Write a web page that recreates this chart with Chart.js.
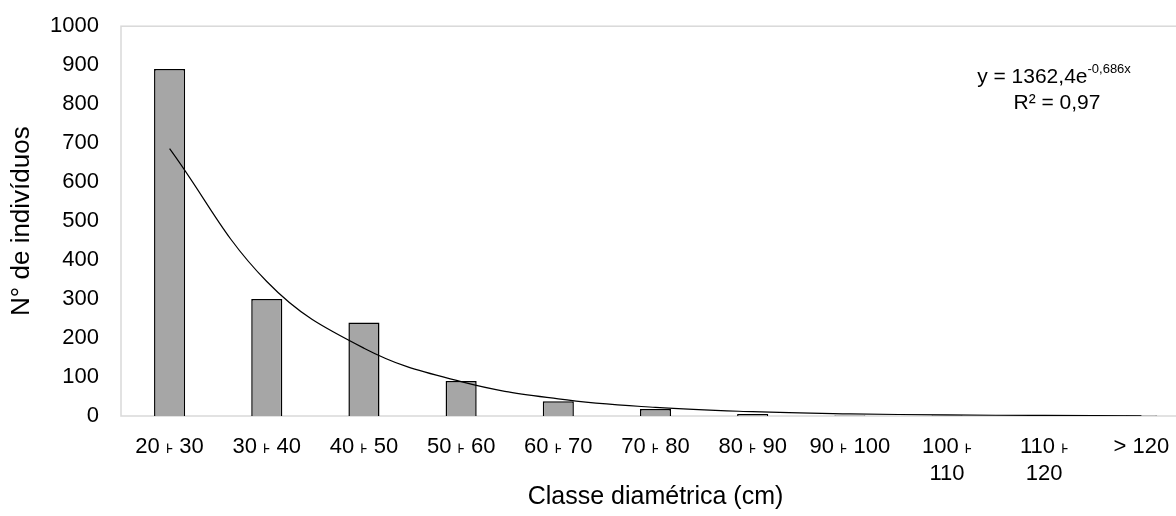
<!DOCTYPE html>
<html>
<head>
<meta charset="utf-8">
<script src="https://cdn.jsdelivr.net/npm/chart.js@4.4.1/dist/chart.umd.min.js"></script>
<style>
    html, body { margin: 0; padding: 0; background: #fff; overflow: hidden; }
    #wrap { width: 1192px; height: 525px; margin-top: -9px; position: relative; }
</style>
</head>
<body>
<div id="wrap"><canvas id="grafico"></canvas></div>
<script>
const classes = ['20 ˫ 30', '30 ˫ 40', '40 ˫ 50', '50 ˫ 60', '60 ˫ 70', '70 ˫ 80', '80 ˫ 90', '90 ˫ 100', ['100 ˫', '110'], ['110 ˫', '120'], '> 120'];
const individuos = [890, 300, 240, 90, 38, 18, 5, 1.5, 1, 2, 1];
// tendência exponencial (y = 1362,4e^-0,686x)
const tendencia = [686, 345, 174, 88, 44, 22, 11, 5.6, 2.8, 1.4, 0.7];
const yTicks = [0, 100, 200, 300, 400, 500, 600, 700, 800, 900, 1000];

const fonte = 'Arial, "Liberation Sans", sans-serif';

const moldura = {
    id: 'moldura',
    beforeDatasetsDraw(chart) {
        const { ctx, chartArea: a } = chart;
        ctx.save();
        ctx.strokeStyle = '#d9d9d9';
        ctx.lineWidth = 1.5;
        ctx.strokeRect(a.left, a.top, a.right - a.left, a.bottom - a.top);
        ctx.restore();
    }
};

// canvas deslocado 9px para cima, por isso +9 nas posições do texto
const equacao = {
    id: 'equacao',
    afterDraw(chart) {
        const ctx = chart.ctx;
        ctx.save();
        ctx.fillStyle = '#000';
        ctx.textBaseline = 'alphabetic';
        ctx.font = '21px ' + fonte;
        const base = 'y = 1362,4e';
        const wBase = ctx.measureText(base).width;
        ctx.font = '13px ' + fonte;
        const sup = '-0,686x';
        const wSup = ctx.measureText(sup).width;
        const x0 = 1054 - (wBase + wSup) / 2;
        ctx.font = '21px ' + fonte;
        ctx.fillText(base, x0, 92);
        ctx.font = '13px ' + fonte;
        ctx.fillText(sup, x0 + wBase, 82);
        ctx.font = '21px ' + fonte;
        ctx.textAlign = 'center';
        ctx.fillText('R² = 0,97', 1057, 118);
        ctx.restore();
    }
};

new Chart(document.getElementById('grafico'), {
    type: 'bar',
    data: {
        labels: classes,
        datasets: [
            {
                type: 'line',
                data: tendencia,
                borderColor: '#000',
                borderWidth: 1.2,
                pointRadius: 0,
                tension: 0.4,
                fill: false,
                order: 0
            },
            {
                data: individuos,
                backgroundColor: '#a6a6a6',
                borderColor: '#000',
                borderWidth: 1.5,
                categoryPercentage: 1,
                barPercentage: 0.32,
                order: 1
            }
        ]
    },
    plugins: [moldura, equacao],
    options: {
        responsive: true,
        maintainAspectRatio: false,
        animation: false,
        layout: { padding: { left: 0, right: 2, top: 16, bottom: 0 } },
        plugins: {
            legend: { display: false },
            tooltip: { enabled: false }
        },
        scales: {
            x: {
                grid: { display: false, drawTicks: false },
                border: { display: false },
                ticks: {
                    color: '#000',
                    font: { family: fonte, size: 22 },
                    padding: 18,
                    maxRotation: 0,
                    autoSkip: false
                },
                title: {
                    display: true,
                    text: 'Classe diamétrica (cm)',
                    color: '#000',
                    font: { family: fonte, size: 25 },
                    padding: { top: 4, bottom: 4 }
                },
                afterFit(scale) { scale.height = 100; }
            },
            y: {
                min: 0,
                max: 1000,
                afterBuildTicks(scale) { scale.ticks = yTicks.map(v => ({ value: v })); },
                grid: { display: false, drawTicks: false },
                border: { display: false },
                ticks: {
                    color: '#000',
                    font: { family: fonte, size: 22 },
                    padding: 22,
                    callback: v => String(v)
                },
                title: {
                    display: true,
                    text: 'N° de indivíduos',
                    color: '#000',
                    font: { family: fonte, size: 26 },
                    padding: { top: 6, bottom: 0 }
                },
                afterFit(scale) { scale.width = 121; }
            }
        }
    }
});
</script>
</body>
</html>
